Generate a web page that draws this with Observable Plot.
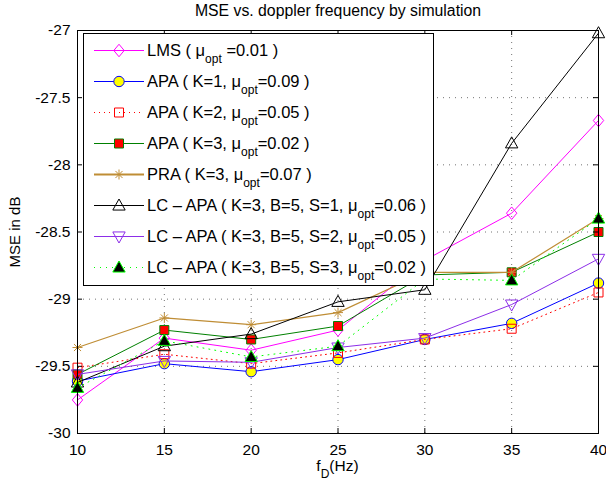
<!DOCTYPE html>
<html><head><meta charset="utf-8">
<script src="https://cdn.jsdelivr.net/npm/d3@7"></script>
<script src="https://cdn.jsdelivr.net/npm/@observablehq/plot@0.6"></script>
<style>
body{margin:0;background:#fff;}
#wrap{position:relative;width:606px;height:485px;font-family:"Liberation Sans",Arial,Helvetica,sans-serif;color:#000;overflow:hidden;background:#fff}
#wrap > svg{position:absolute;left:0;top:0;}
#legend{position:absolute;left:83px;top:33px;width:349px;height:251px;border:1px solid #000;background:#fff;}
.row{position:absolute;left:0;height:31px;width:100%;}
.row svg{position:absolute;left:9px;top:0;}
.row .lab{position:absolute;left:63px;top:7px;font-size:16.5px;white-space:nowrap;line-height:1}
.sub{font-size:12px;position:relative;top:7px}
#xlab{position:absolute;left:77px;width:521px;top:458px;text-align:center;font-size:15.5px;line-height:1}
</style></head>
<body><div id="wrap"><div id="legend"></div><div id="xlab">f<span class="sub">D</span>(Hz)</div></div>
<script>
// ---- data ----
const fD = [10, 15, 20, 25, 30, 35, 40];
const LMS    = [-29.75, -29.29, -29.38, -29.23, -28.71, -28.36, -27.67];
const APA_K1 = [-29.61, -29.48, -29.54, -29.45, -29.30, -29.18, -28.88];
const APA_K2 = [-29.51, -29.41, -29.48, -29.40, -29.30, -29.22, -28.95];
const APA_K3 = [-29.56, -29.23, -29.30, -29.20, -28.82, -28.80, -28.50];
const PRA_K3 = [-29.36, -29.14, -29.19, -29.10, -28.80, -28.80, -28.40];
const LC_S1  = [-29.62, -29.35, -29.26, -29.02, -28.93, -27.84, -27.02];
const LC_S2  = [-29.56, -29.46, -29.47, -29.36, -29.29, -29.04, -28.70];
const LC_S3  = [-29.66, -29.31, -29.43, -29.35, -28.85, -28.86, -28.40];
const seriesValues = [LMS, APA_K1, APA_K2, APA_K3, PRA_K3, LC_S1, LC_S2, LC_S3];
const seriesLabels = [
  "LMS ( \u03bc_{opt} =0.01 )",
  "APA ( K=1, \u03bc_{opt}=0.09 )",
  "APA ( K=2, \u03bc_{opt}=0.05 )",
  "APA ( K=3, \u03bc_{opt}=0.02 )",
  "PRA ( K=3, \u03bc_{opt}=0.07 )",
  "LC \u2013 APA ( K=3, B=5, S=1, \u03bc_{opt}=0.06 )",
  "LC \u2013 APA ( K=3, B=5, S=2, \u03bc_{opt}=0.05 )",
  "LC \u2013 APA ( K=3, B=5, S=3, \u03bc_{opt}=0.02 )"
];
const xTicks = [10, 15, 20, 25, 30, 35, 40];
const xTickLabels = ["10", "15", "20", "25", "30", "35", "40"];
const yTicks = [-30, -29.5, -29, -28.5, -28, -27.5, -27];
const yTickLabels = ["-30", "-29.5", "-29", "-28.5", "-28", "-27.5", "-27"];
const titleText = "MSE vs. doppler frequency by simulation";
const yLabelText = "MSE in dB";

// ---- marker shapes ----
const R = s => Math.sqrt(s / Math.PI);
const sym = {
  diamond: {draw(c, s){const r=R(s); c.moveTo(0,-1.2*r); c.lineTo(r,0); c.lineTo(0,1.2*r); c.lineTo(-r,0); c.closePath();}},
  circle: {draw(c, s){const r=R(s); c.moveTo(r,0); c.arc(0,0,r,0,2*Math.PI); c.closePath();}},
  square: {draw(c, s){const r=R(s)*0.9; c.moveTo(-r,-r); c.lineTo(r,-r); c.lineTo(r,r); c.lineTo(-r,r); c.closePath();}},
  asterisk: {draw(c, s){const r=R(s), k=r*0.707; c.moveTo(-r,0); c.lineTo(r,0); c.moveTo(0,-r); c.lineTo(0,r); c.moveTo(-k,-k); c.lineTo(k,k); c.moveTo(-k,k); c.lineTo(k,-k);}},
  triUp: {draw(c, s){const r=R(s); c.moveTo(0,-r); c.lineTo(0.95*r,0.7*r); c.lineTo(-0.95*r,0.7*r); c.closePath();}},
  triDown: {draw(c, s){const r=R(s); c.moveTo(0,r); c.lineTo(0.95*r,-0.7*r); c.lineTo(-0.95*r,-0.7*r); c.closePath();}}
};

// ---- styles ----
const styles = [
  {color:"#ff00ff", width:1, dash:null, symbol:sym.diamond, r:5.2, mstroke:"#ff00ff", mfill:"none"},
  {color:"#0000ff", width:1, dash:null, symbol:sym.circle, r:5.2, mstroke:"#0000ff", mfill:"#ffff00"},
  {color:"#ff0000", width:1, dash:"1,4", symbol:sym.square, r:5, mstroke:"#ff0000", mfill:"none"},
  {color:"#008000", width:1, dash:null, symbol:sym.square, r:5, mstroke:"#008000", mfill:"#ff0000"},
  {color:"#bf8d35", width:1.2, dash:null, symbol:sym.asterisk, r:5, mstroke:"#bf8d35", mfill:"none"},
  {color:"#000000", width:1, dash:null, symbol:sym.triUp, r:6.5, mstroke:"#000000", mfill:"none"},
  {color:"#8c2ee8", width:1, dash:null, symbol:sym.triDown, r:6.5, mstroke:"#8c2ee8", mfill:"none"},
  {color:"#00ff00", width:1, dash:"1,5", symbol:sym.triUp, r:6.5, mstroke:"#00ff00", mfill:"#000000"}
];

const rows = [];
seriesValues.forEach((vals, k) => vals.forEach((v, i) => rows.push({k, x: fD[i], y: v})));

const W = 606, H = 485, mL = 77, mR = 8, mT = 30, mB = 52;
const pw = W - mL - mR, ph = H - mT - mB;
const gridStyle = {stroke:"#000", strokeOpacity:0.55, strokeDasharray:"1,5", strokeWidth:1};

const marks = [
  Plot.ruleX(xTicks, gridStyle),
  Plot.ruleY(yTicks, gridStyle)
];
styles.forEach((s, k) => {
  const d = rows.filter(r => r.k === k);
  marks.push(Plot.line(d, {x:"x", y:"y", stroke:s.color, strokeWidth:s.width, strokeDasharray:s.dash || undefined}));
  marks.push(Plot.dot(d, {x:"x", y:"y", symbol:s.symbol, r:s.r, stroke:s.mstroke, fill:s.mfill, strokeWidth:1}));
});
marks.push(
  Plot.tickX(xTicks, {x:d=>d, insetTop: ph-5, stroke:"#000"}),
  Plot.tickX(xTicks, {x:d=>d, insetBottom: ph-5, stroke:"#000"}),
  Plot.tickY(yTicks, {y:d=>d, insetRight: pw-5, stroke:"#000"}),
  Plot.tickY(yTicks, {y:d=>d, insetLeft: pw-5, stroke:"#000"}),
  Plot.frame({stroke:"#000", strokeWidth:1}),
  Plot.text([titleText], {frameAnchor:"top", dy:-20, lineAnchor:"middle", fontSize:15.8, textAnchor:"middle"}),
  Plot.text([yLabelText], {frameAnchor:"left", dx:-62, rotate:-90, fontSize:15, textAnchor:"middle"})
);

const chart = Plot.plot({
  width: W, height: H,
  marginLeft: mL, marginRight: mR, marginTop: mT, marginBottom: mB,
  style: {fontFamily:"'Liberation Sans', Arial, Helvetica, sans-serif", fontSize:"15.5px", background:"white", color:"#000", overflow:"visible"},
  x: {domain:[10, 40], ticks: xTicks, tickFormat: d => xTickLabels[xTicks.indexOf(d)], tickSize:0, tickPadding:10, label:null},
  y: {domain:[-30, -27], ticks: yTicks, tickFormat: d => yTickLabels[yTicks.indexOf(d)], tickSize:0, tickPadding:7, label:null},
  marks
});
const wrap = document.getElementById("wrap");
wrap.prepend(chart);

// ---- legend ----
const legend = d3.select("#legend");
styles.forEach((s, k) => {
  const row = legend.append("div").attr("class","row").style("top", (0.5 + 31*k) + "px");
  const svg = row.append("svg").attr("width", 52).attr("height", 31);
  svg.append("line").attr("x1",1).attr("x2",51).attr("y1",15.5).attr("y2",15.5)
    .attr("stroke", s.color).attr("stroke-width", k===4 ? 2 : s.width)
    .attr("stroke-dasharray", s.dash);
  svg.append("path").attr("transform","translate(26,15.5)")
    .attr("d", d3.symbol(s.symbol, Math.PI*s.r*s.r)())
    .attr("stroke", s.mstroke).attr("fill", s.mfill);
  const html = seriesLabels[k].replace(/_\{(.*?)\}/g, '<span class="sub">$1</span>');
  row.append("span").attr("class","lab").html(html);
});
</script>
</body></html>
